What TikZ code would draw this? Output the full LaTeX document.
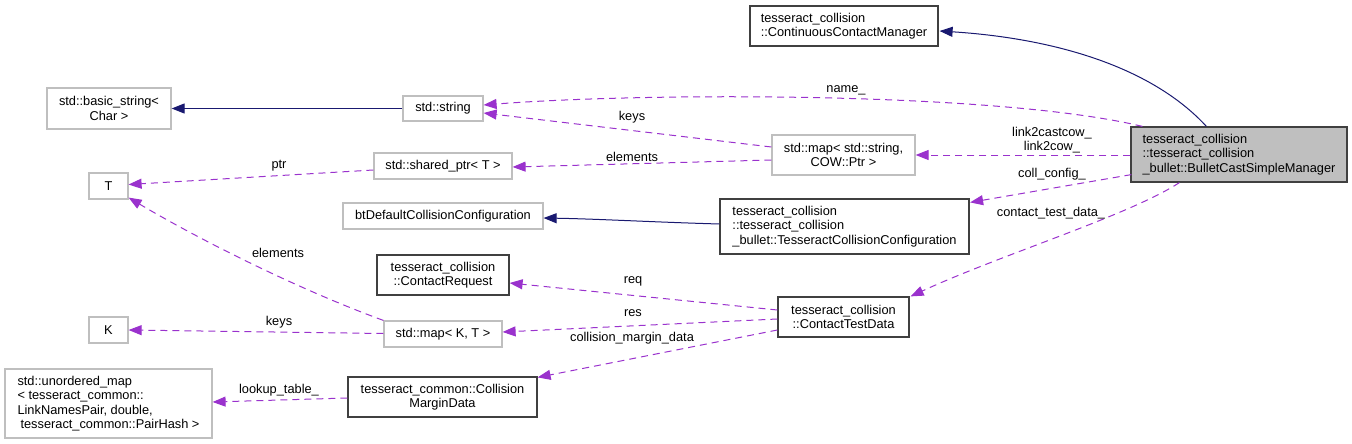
\documentclass[tikz,border=0pt]{standalone}
\usepackage{fontspec}
\setmainfont{Liberation Sans}
\usetikzlibrary{arrows.meta,calc}
\definecolor{edgepurple}{HTML}{9A32CD}
\definecolor{edgenavy}{HTML}{191970}
\definecolor{boxgray}{HTML}{BFBFBF}
\definecolor{boxdark}{HTML}{404040}
\begin{document}
\begin{tikzpicture}[x=1pt,y=-1pt,
  every node/.style={font=\fontsize{12.8}{14.5}\selectfont},
  cls/.style={draw=boxdark, line width=1.2pt, fill=white, inner sep=0pt, align=center},
  ext/.style={draw=boxgray, line width=1.2pt, fill=white, inner sep=0pt, align=center},
  lbl/.style={inner sep=0pt, align=center},
  dep/.style={draw=edgepurple, line width=1pt, dash pattern=on 7pt off 5pt, -{Triangle[length=13pt,width=10pt]}},
  inh/.style={draw=edgenavy, line width=1pt, -{Triangle[length=13pt,width=10pt]}}
]
\useasboundingbox (0,0) rectangle (1352,444);

% nodes
\node[cls, minimum width=188pt, minimum height=40pt, align=left] (ccm) at (844,26) {tesseract\_collision\\::ContinuousContactManager};
\node[cls, fill=boxgray, minimum width=216pt, minimum height=55pt, align=left] (bcsm) at (1239,154.5) {tesseract\_collision\\::tesseract\_collision\\\_bullet::BulletCastSimpleManager};
\node[ext, minimum width=80pt, minimum height=25pt] (str) at (443,108.5) {std::string};
\node[ext, minimum width=124pt, minimum height=41pt] (bstr) at (109,108.5) {std::basic\_string<\\Char >};
\node[ext, minimum width=143pt, minimum height=40pt] (mapsc) at (843.5,155) {std::map< std::string,\\COW::Ptr >};
\node[ext, minimum width=138pt, minimum height=26pt] (sptr) at (443,166) {std::shared\_ptr< T >};
\node[ext, minimum width=39pt, minimum height=26pt] (T) at (108.5,186) {T};
\node[ext, minimum width=200pt, minimum height=26pt] (btd) at (443,216) {btDefaultCollisionConfiguration};
\node[cls, minimum width=249pt, minimum height=55pt, align=left] (tcc) at (844.5,226.5) {tesseract\_collision\\::tesseract\_collision\\\_bullet::TesseractCollisionConfiguration};
\node[cls, minimum width=132pt, minimum height=40pt] (creq) at (443,275) {tesseract\_collision\\::ContactRequest};
\node[cls, minimum width=131pt, minimum height=40pt] (ctd) at (843.5,317) {tesseract\_collision\\::ContactTestData};
\node[ext, minimum width=118pt, minimum height=26pt] (mapkt) at (443,334) {std::map< K, T >};
\node[ext, minimum width=39pt, minimum height=26pt] (K) at (108.5,330) {K};
\node[cls, minimum width=189pt, minimum height=40pt] (cmd) at (442.5,397) {tesseract\_common::Collision\\MarginData};
\node[ext, minimum width=207pt, minimum height=69pt, align=left] (umap) at (108.5,403.5) {std::unordered\_map\\< tesseract\_common::\\LinkNamesPair, double,\\\hspace*{3pt}tesseract\_common::PairHash >};

% connectors
\draw[inh] ($(bcsm.north west)+(76,0)$) .. controls (1150,65) and (1050,38) .. ($(ccm.east)+(1,5)$);
\draw[dep] ($(bcsm.north west)+(12,0)$) .. controls (1000,92) and (650,92) .. ($(str.east)+(0,-3.5)$);
\draw[dep] ($(bcsm.west)+(0,0.5)$) -- (mapsc.east);
\draw[dep] ($(mapsc.west)+(0,-8)$) -- ($(str.east)+(0,4.5)$);
\draw[dep] ($(mapsc.west)+(0,5)$) -- ($(sptr.east)+(0,1)$);
\draw[dep] ($(sptr.west)+(0,4)$) -- ($(T.east)+(0,-1.5)$);
\draw[inh] (str.west) -- (bstr.east);
\draw[inh] ($(tcc.west)+(0,-2.5)$) .. controls (650,222) and (600,219) .. ($(btd.east)+(0,2)$);
\draw[dep] ($(bcsm.south west)+(1,-8)$) -- ($(tcc.north east)+(0.5,4)$);
\draw[dep] ($(bcsm.south west)+(49,0)$) .. controls (1130,215) and (1000,255) .. ($(ctd.north east)+(1,0)$);
\draw[dep] ($(ctd.west)+(0,-7)$) -- ($(creq.east)+(0,8)$);
\draw[dep] ($(ctd.west)+(0,2)$) -- ($(mapkt.east)+(0,-2)$);
\draw[dep] ($(ctd.west)+(0,13)$) -- ($(cmd.north east)+(0,1)$);
\draw[dep] (mapkt.north west) .. controls (300,290) and (200,240) .. ($(T.south east)+(0,-2)$);
\draw[dep] ($(mapkt.west)+(0,-0.5)$) -- (K.east);
\draw[dep] ($(cmd.west)+(0,1)$) -- ($(umap.east)+(0,-1.5)$);

% labels
\node[lbl] (l1) at (846,90) {name\_};
\node[lbl] (l2) at (1052,140) {link2castcow\_\\link2cow\_};
\node[lbl] (l3) at (632,117) {keys};
\node[lbl] (l4) at (632,157) {elements};
\node[lbl] (l5) at (279,166) {ptr};
\node[lbl] (l6) at (1052,174) {coll\_config\_};
\node[lbl] (l7) at (1051,213) {contact\_test\_data\_};
\node[lbl] (l8) at (633,281) {req};
\node[lbl] (l9) at (633,313) {res};
\node[lbl] (l10) at (632,338) {collision\_margin\_data};
\node[lbl] (l11) at (278,253) {elements};
\node[lbl] (l12) at (279,322) {keys};
\node[lbl] (l13) at (279,390) {lookup\_table\_};
\end{tikzpicture}
\end{document}
